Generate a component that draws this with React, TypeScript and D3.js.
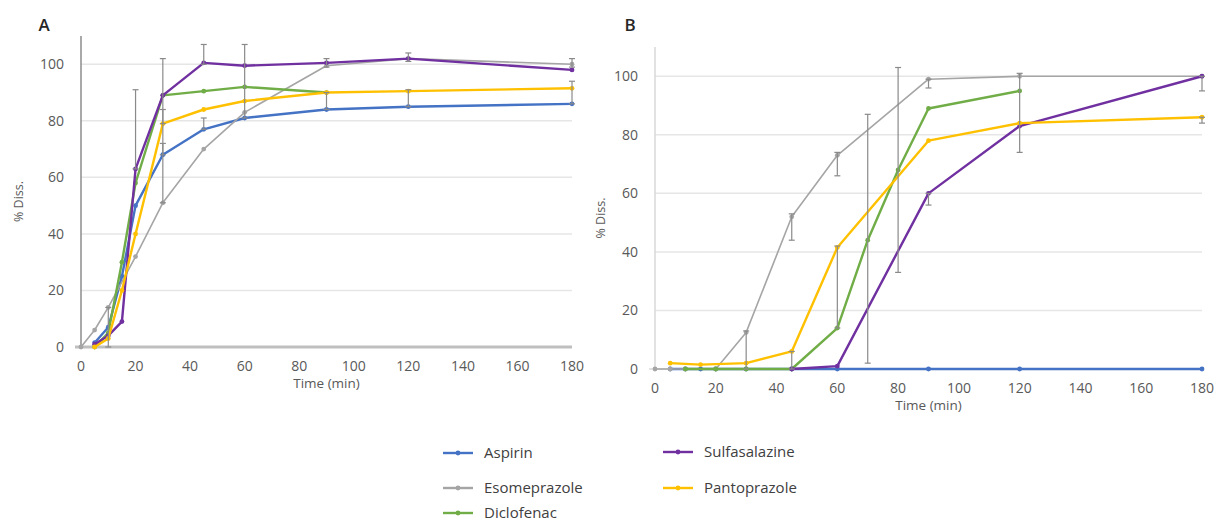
import React from "react";
import * as d3 from "d3";

const seriesNames = ["Aspirin", "Esomeprazole", "Diclofenac", "Sulfasalazine", "Pantoprazole"];
const seriesColors = ["#4472C4", "#A5A5A5", "#70AD47", "#7030A0", "#FFC000"];
const xTicks = [0, 20, 40, 60, 80, 100, 120, 140, 160, 180];
const yTicks = [0, 20, 40, 60, 80, 100];

// Panel A
const aAspirinT = [5, 10, 15, 20, 30, 45, 60, 90, 120, 180];
const aAspirinV = [1.5, 7, 25, 50, 68, 77, 81, 84, 85, 86];
const aEsoT = [0, 5, 10, 20, 30, 45, 60, 90, 120, 180];
const aEsoV = [0, 6, 14, 32, 51, 70, 83, 99.5, 102, 100];
const aDicloT = [5, 10, 15, 20, 30, 45, 60, 90];
const aDicloV = [0, 5, 30, 58, 89, 90.5, 92, 90];
const aSulfaT = [5, 10, 15, 20, 30, 45, 60, 90, 120, 180];
const aSulfaV = [1, 4, 9, 63, 89, 100.5, 99.5, 100.5, 102, 98];
const aPantoT = [5, 10, 15, 20, 30, 45, 60, 90, 120, 180];
const aPantoV = [0, 3, 20, 40, 79, 84, 87, 90, 90.5, 91.5];
const aErrT = [10, 20, 30, 30, 30, 45, 45, 60, 90, 90, 120, 120, 180, 180];
const aErrLo = [0, 63, 51, 79, 68, 100, 77, 81, 99, 84, 101, 85, 99, 86];
const aErrHi = [14, 91, 102, 84, 72, 107, 81, 107, 102, 90, 104, 91, 102, 94];

// Panel B
const bAspirinT = [5, 10, 15, 20, 30, 45, 60, 90, 120, 180];
const bAspirinV = [0, 0, 0, 0, 0, 0, 0, 0, 0, 0];
const bEsoT = [0, 5, 10, 20, 30, 45, 60, 90, 120, 180];
const bEsoV = [0, 0, 0, 0, 12.5, 52, 73, 99, 100, 100];
const bDicloT = [10, 20, 30, 45, 60, 70, 80, 90, 120];
const bDicloV = [0, 0, 0, 0, 14, 44, 68, 89, 95];
const bSulfaT = [45, 60, 90, 120, 180];
const bSulfaV = [0, 1, 60, 83, 100];
const bPantoT = [5, 15, 30, 45, 60, 90, 120, 180];
const bPantoV = [2, 1.5, 2, 6, 41.5, 78, 84, 86];
const bErrT = [30, 45, 45, 60, 60, 70, 80, 90, 90, 120, 180, 180];
const bErrLo = [0, 44, 0, 66, 14, 2, 33, 96, 56, 74, 95, 84];
const bErrHi = [13, 53, 6, 74, 42, 87, 103, 99, 60, 101, 100, 86];

type Panel = {
  label: string;
  labelX: number;
  x0: number; x1: number; y0: number; y1: number;
  yTitleX: number;
  series: { t: number[]; v: number[] }[];
  errT: number[]; errLo: number[]; errHi: number[];
  axisColor: string; axisWidth: number; baseColor: string; baseWidth: number;
};

const panels: Panel[] = [
  {
    label: "A", labelX: 44, x0: 81, x1: 572, y0: 347, y1: 36, yTitleX: 19,
    series: [
      { t: aAspirinT, v: aAspirinV }, { t: aEsoT, v: aEsoV }, { t: aDicloT, v: aDicloV },
      { t: aSulfaT, v: aSulfaV }, { t: aPantoT, v: aPantoV },
    ],
    errT: aErrT, errLo: aErrLo, errHi: aErrHi,
    axisColor: "#8c8c8c", axisWidth: 1.5, baseColor: "#bfbfbf", baseWidth: 3,
  },
  {
    label: "B", labelX: 630, x0: 655, x1: 1202, y0: 369, y1: 47, yTitleX: 601,
    series: [
      { t: bAspirinT, v: bAspirinV }, { t: bEsoT, v: bEsoV }, { t: bDicloT, v: bDicloV },
      { t: bSulfaT, v: bSulfaV }, { t: bPantoT, v: bPantoV },
    ],
    errT: bErrT, errLo: bErrLo, errHi: bErrHi,
    axisColor: "#d9d9d9", axisWidth: 1.5, baseColor: "#d9d9d9", baseWidth: 1.5,
  },
];

const FONT = "'Open Sans', 'Liberation Sans', sans-serif";

function ChartPanel({ p }: { p: Panel }) {
  const x = d3.scaleLinear().domain([0, 180]).range([p.x0, p.x1]);
  const y = d3.scaleLinear().domain([0, 110]).range([p.y0, p.y1]);
  const line = d3.line<[number, number]>().x((d) => x(d[0])).y((d) => y(d[1]));
  const order = [0, 1, 2, 3, 4];
  return (
    <g>
      <text x={p.labelX} y={31} fontFamily={FONT} fontSize={17} fontWeight={600} fill="#262626" textAnchor="middle">{p.label}</text>
      {yTicks.filter((t) => t > 0).map((t) => (
        <line key={"g" + t} x1={p.x0} x2={p.x1} y1={y(t)} y2={y(t)} stroke="#e6e6e6" strokeWidth={1.5} />
      ))}
      <line x1={p.x0} x2={p.x0} y1={p.y1} y2={p.y0} stroke={p.axisColor} strokeWidth={p.axisWidth} />
      <line x1={p.x0 - 6} x2={p.x1} y1={p.y0} y2={p.y0} stroke={p.baseColor} strokeWidth={p.baseWidth} />
      {yTicks.map((t) => (
        <text key={"yt" + t} x={p.x0 - 17} y={y(t)} dy="0.35em" textAnchor="end" fontFamily={FONT} fontSize={14} fill="#595959">{t}</text>
      ))}
      {xTicks.map((t) => (
        <text key={"xt" + t} x={x(t)} y={p.y0 + 19} dy="0.35em" textAnchor="middle" fontFamily={FONT} fontSize={14} fill="#595959">{t}</text>
      ))}
      <text x={(p.x0 + p.x1) / 2} y={p.y0 + 36} dy="0.35em" textAnchor="middle" fontFamily={FONT} fontSize={13.5} fill="#595959">Time (min)</text>
      <text transform={`translate(${p.yTitleX},${(p.y0 + p.y1) / 2 + 10}) rotate(-90)`} textAnchor="middle" dy="0.35em" fontFamily={FONT} fontSize={12.5} fill="#595959">% Diss.</text>
      {order.map((i) => {
        const s = p.series[i];
        const pts = s.t.map((t, k) => [t, s.v[k]] as [number, number]);
        return (
          <g key={"s" + i}>
            <path d={line(pts) || ""} fill="none" stroke={seriesColors[i]} strokeWidth={i === 1 ? 1.6 : 2.4} strokeLinejoin="round" />
            {pts.map((d, k) => (
              <circle key={k} cx={x(d[0])} cy={y(d[1])} r={2.4} fill={seriesColors[i]} />
            ))}
          </g>
        );
      })}
      {p.errT.map((t, k) => (
        <g key={"e" + k} stroke="#8a8a8a" strokeWidth={1.2}>
          <line x1={x(t)} x2={x(t)} y1={y(p.errLo[k])} y2={y(p.errHi[k])} />
          <line x1={x(t) - 3} x2={x(t) + 3} y1={y(p.errHi[k])} y2={y(p.errHi[k])} />
          <line x1={x(t) - 3} x2={x(t) + 3} y1={y(p.errLo[k])} y2={y(p.errLo[k])} />
        </g>
      ))}
    </g>
  );
}

const legendX = [443, 443, 443, 663, 663];
const legendY = [453, 488, 513, 452, 488];

export default function App() {
  return (
    <svg width={1219} height={523} style={{ position: "absolute", left: 0, top: 0, background: "#fff" }}>
      <rect width={1219} height={523} fill="#fff" />
      {panels.map((p) => <ChartPanel key={p.label} p={p} />)}
      {seriesNames.map((n, i) => (
        <g key={n}>
          <line x1={legendX[i]} x2={legendX[i] + 30} y1={legendY[i]} y2={legendY[i]} stroke={seriesColors[i]} strokeWidth={2.4} />
          <circle cx={legendX[i] + 15} cy={legendY[i]} r={2.4} fill={seriesColors[i]} />
          <text x={legendX[i] + 41} y={legendY[i]} dy="0.35em" fontFamily={FONT} fontSize={15} fill="#404040">{n}</text>
        </g>
      ))}
    </svg>
  );
}
